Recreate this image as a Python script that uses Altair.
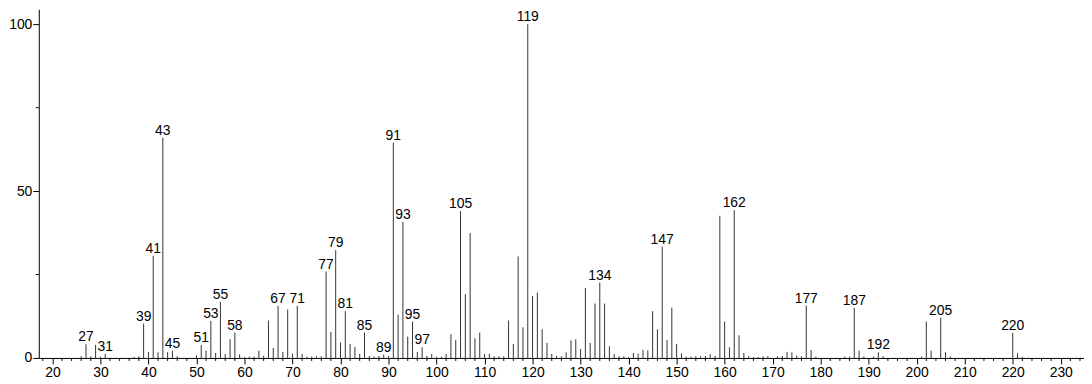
import altair as alt
import pandas as pd

mz = [26, 27, 28, 29, 30, 31, 37, 38, 39, 40, 41, 42, 43, 44, 45, 46,
      50, 51, 52, 53, 54, 55, 56, 57, 58, 59, 60, 61, 62, 63, 64, 65, 66, 67, 68, 69,
      70, 71, 72, 73, 74, 75, 76, 77, 78, 79, 80, 81, 82, 83, 84, 85, 86, 87, 88, 89,
      90, 91, 92, 93, 94, 95, 96, 97, 98, 99, 100, 101, 102, 103, 104, 105, 106, 107, 108, 109,
      110, 111, 112, 113, 114, 115, 116, 117, 118, 119, 120, 121, 122, 123, 124, 125, 126, 127, 128, 129,
      130, 131, 132, 133, 134, 135, 136, 137, 138, 139, 140, 141, 142, 143, 144, 145, 146, 147, 148, 149,
      150, 151, 152, 153, 154, 155, 156, 157, 158, 159, 160, 161, 162, 163, 164, 165, 166, 167, 168, 169,
      171, 172, 173, 174, 175, 176, 177, 178, 179, 185, 186, 187, 188, 189, 191, 192, 193,
      201, 202, 203, 205, 206, 207, 220, 221, 222]

intensity = [0.5, 4.1, 0.5, 3.9, 0.4, 1.2, 0.3, 0.5, 10.3, 1.8, 30.6, 1.7, 66.0, 1.7, 2.2, 0.5,
             0.8, 3.9, 2.2, 11.1, 1.5, 16.8, 1.2, 5.6, 7.6, 1.1, 0.3, 0.4, 0.4, 2.2, 0.7, 11.2, 3.0, 15.6, 1.8, 14.5,
             1.3, 15.6, 1.2, 0.4, 0.4, 0.5, 0.5, 25.9, 7.8, 32.3, 4.6, 14.0, 4.2, 3.3, 1.2, 7.6, 0.6, 0.4, 0.6, 1.0,
             0.6, 64.5, 13.0, 40.8, 6.4, 10.9, 1.8, 3.2, 0.6, 1.2, 0.4, 0.4, 1.2, 7.1, 5.4, 44.0, 19.1, 37.4, 5.9, 7.6,
             1.2, 1.2, 0.5, 0.5, 0.5, 11.2, 4.2, 30.4, 9.2, 100.0, 18.6, 19.6, 8.6, 4.5, 1.2, 0.6, 0.5, 1.7, 5.3, 5.6,
             2.7, 21.0, 4.5, 16.3, 22.6, 16.3, 3.5, 1.2, 0.5, 0.5, 0.3, 1.5, 1.2, 2.4, 2.2, 14.0, 8.6, 33.4, 5.4, 15.1,
             4.2, 1.4, 0.4, 0.4, 0.5, 0.5, 0.6, 1.1, 0.6, 42.6, 10.9, 3.2, 44.3, 6.8, 1.5, 0.5, 0.3, 0.3, 0.5, 0.6,
             0.5, 0.6, 1.8, 1.7, 0.7, 0.5, 15.7, 2.4, 0.4, 0.4, 0.4, 15.0, 2.2, 0.5, 0.4, 1.7, 0.5,
             0.4, 10.9, 2.2, 12.1, 1.7, 0.4, 7.5, 1.4, 0.3]

labeled = [27, 31, 39, 41, 43, 45, 51, 53, 55, 58, 67, 71, 77, 79, 81, 85, 89,
           91, 93, 95, 97, 105, 119, 134, 147, 162, 177, 187, 192, 205, 220]

x_major_ticks = list(range(20, 240, 10))
x_minor_ticks = [v for v in range(18, 236, 2) if v % 10 != 0]
y_major_ticks = [0, 50, 100]
y_minor_ticks = [25, 75]

df = pd.DataFrame({"mz": mz, "intensity": intensity})
df["label"] = [str(m) if m in labeled else "" for m in mz]

FONT = "Liberation Sans"
W, H = 1052, 351

x_scale = alt.Scale(domain=[17.17, 234.84], nice=False, zero=False)
y_scale = alt.Scale(domain=[0, 104.5], nice=False)

x_axis = alt.Axis(values=x_major_ticks, title=None, grid=False, tickSize=6,
                  labelPadding=2, labelOverlap=False, labelFlush=False)
y_axis = alt.Axis(values=y_major_ticks, title=None, grid=False, tickSize=6,
                  labelPadding=1, labelOverlap=False, labelFlush=False)

peaks = alt.Chart(df).mark_rule(color="#333333", strokeWidth=1).encode(
    x=alt.X("mz:Q", scale=x_scale, axis=x_axis),
    y=alt.Y("intensity:Q", scale=y_scale, axis=y_axis),
    y2=alt.datum(0),
)

labels = alt.Chart(df).transform_filter("datum.label != ''").mark_text(
    baseline="alphabetic", align="center", dy=-3, fontSize=14, font=FONT, color="black"
).encode(
    x=alt.X("mz:Q", scale=x_scale, axis=x_axis),
    y=alt.Y("intensity:Q", scale=y_scale, axis=y_axis),
    text="label:N",
)

x_minor = alt.Chart(pd.DataFrame({"mz": x_minor_ticks})).mark_rule(
    color="black", strokeWidth=1
).encode(
    x=alt.X("mz:Q", scale=x_scale, axis=x_axis),
    y=alt.value(H),
    y2=alt.value(H + 3),
)

y_minor = alt.Chart(pd.DataFrame({"intensity": y_minor_ticks})).mark_rule(
    color="black", strokeWidth=1
).encode(
    y=alt.Y("intensity:Q", scale=y_scale, axis=y_axis),
    x=alt.value(0),
    x2=alt.value(-3),
)

chart = (
    alt.layer(peaks, labels, x_minor, y_minor)
    .properties(
        width=W,
        height=H,
        autosize="none",
        padding={"left": 31, "top": 0, "right": 0, "bottom": 25},
    )
    .configure_view(stroke=None)
    .configure_axis(
        domainColor="black",
        tickColor="black",
        labelColor="black",
        labelFont=FONT,
        labelFontSize=14,
        domainWidth=1,
        tickWidth=1,
    )
)

chart.save("out.html", embed_options={"renderer": "svg", "actions": False})
